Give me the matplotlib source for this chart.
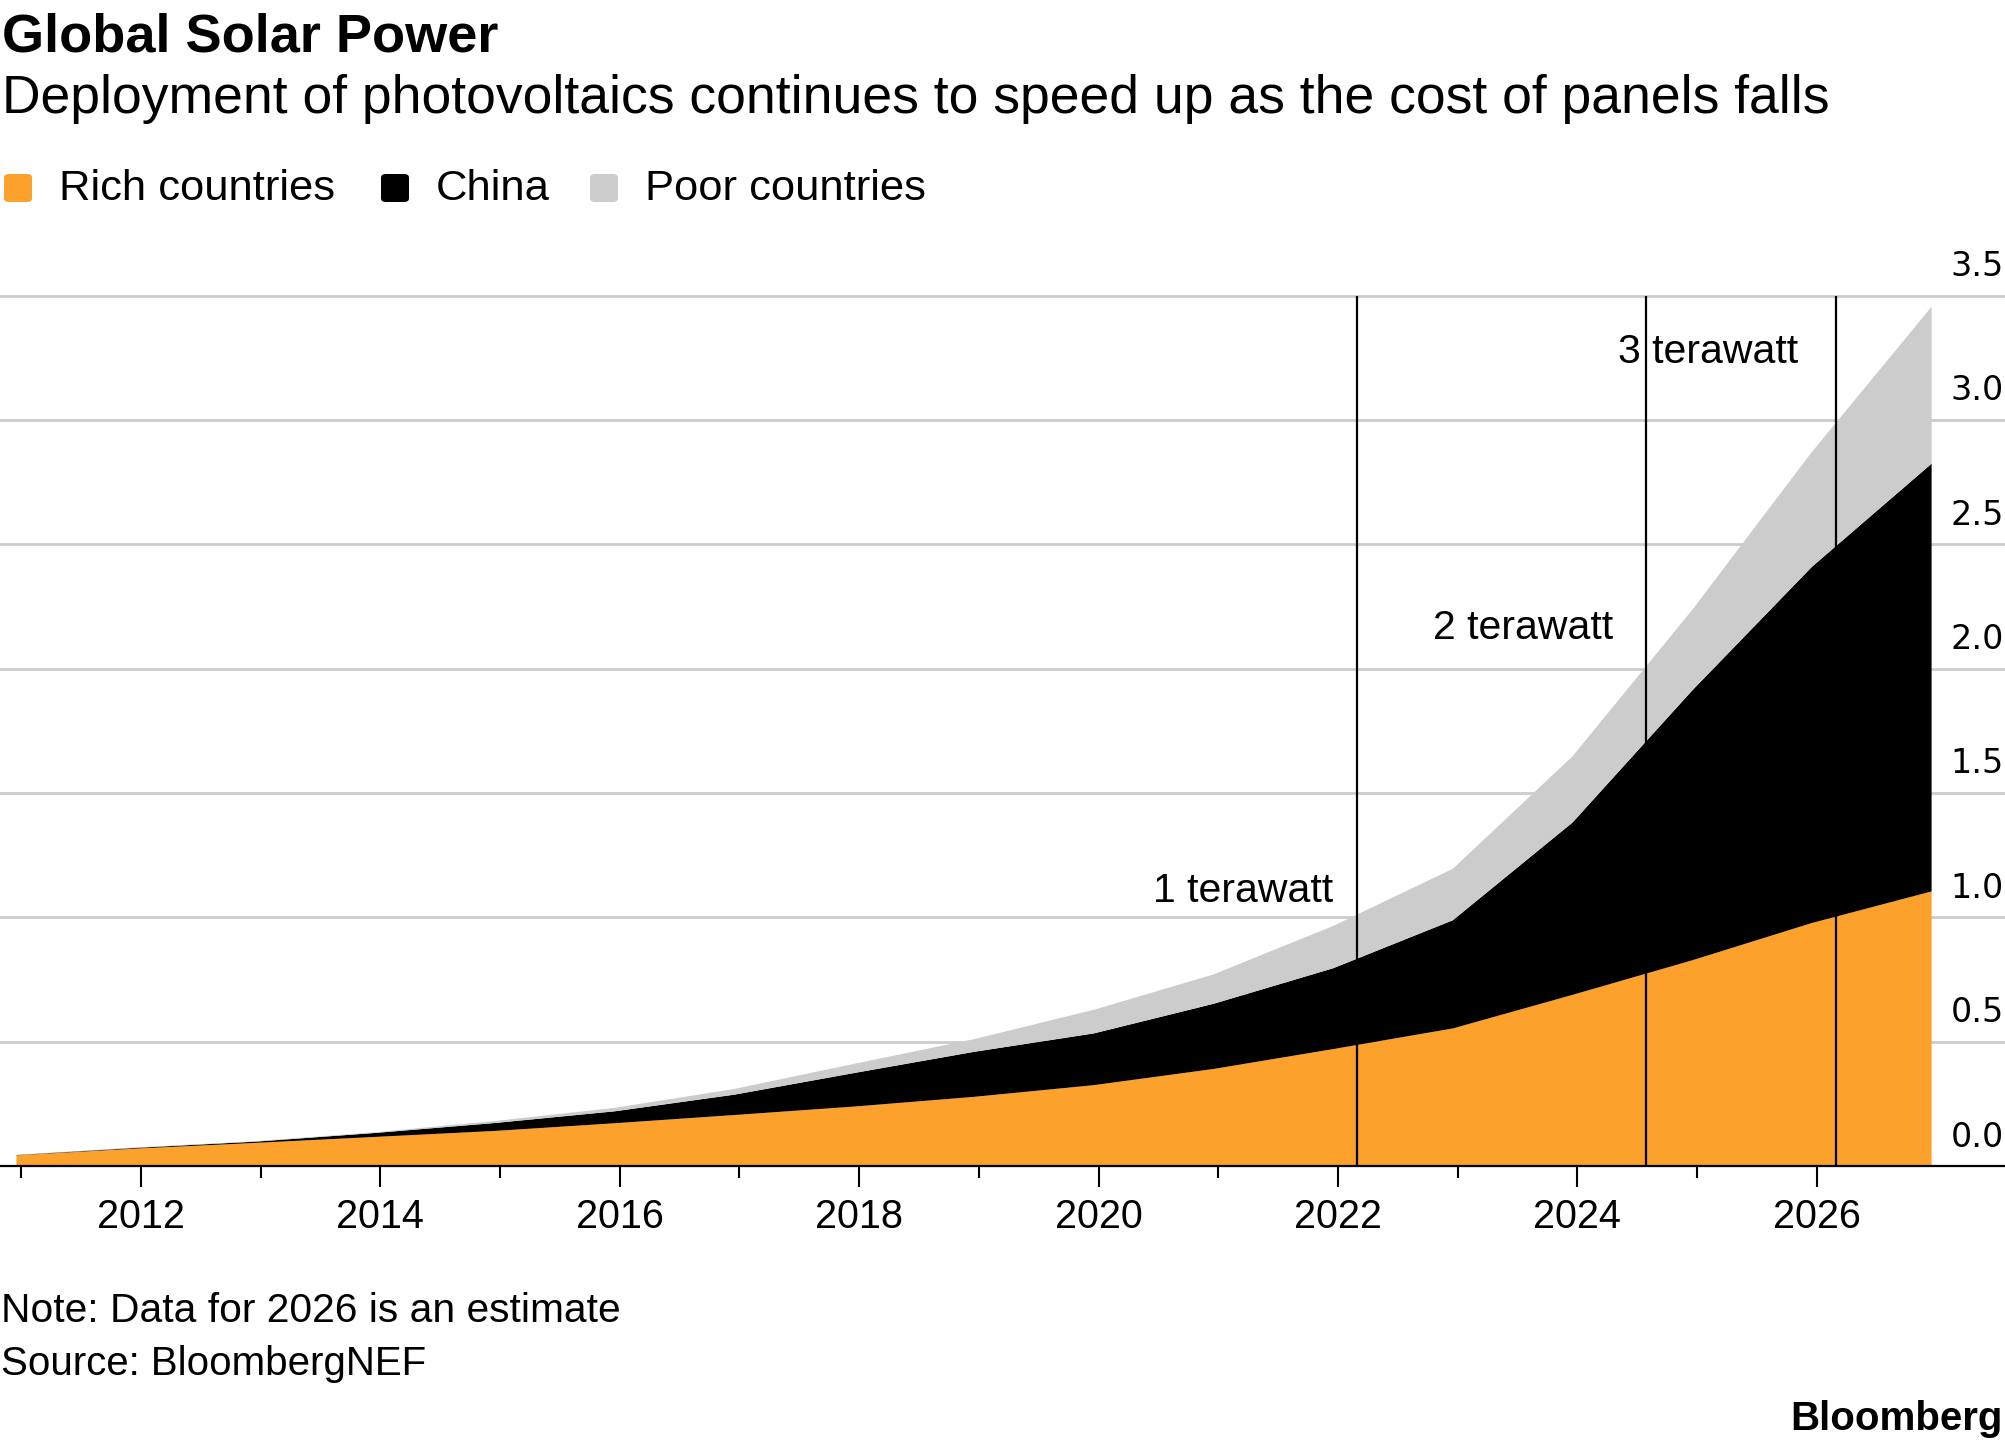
import matplotlib
matplotlib.use("Agg")
from matplotlib import pyplot as plt
from matplotlib.patches import FancyBboxPatch
import numpy as np

# cumulative installed PV, terawatts, end of each year
years = np.arange(2010, 2027)
rich = np.array([0.043, 0.070, 0.093, 0.117, 0.141, 0.172, 0.205, 0.239, 0.278,
                 0.325, 0.390, 0.470, 0.553, 0.688, 0.827, 0.977, 1.104])
china = np.array([0.001, 0.003, 0.005, 0.016, 0.032, 0.048, 0.082, 0.135, 0.181,
                  0.208, 0.262, 0.325, 0.435, 0.693, 1.085, 1.432, 1.720])
poor = np.array([0.001, 0.002, 0.002, 0.003, 0.008, 0.014, 0.023, 0.037, 0.051,
                 0.095, 0.118, 0.170, 0.207, 0.266, 0.324, 0.462, 0.631])

series_names = ["Rich countries", "China", "Poor countries"]
series_colors = ["#fba12c", "#000000", "#cccccc"]

milestone_dates = [2022.16, 2024.57, 2026.16]
milestone_labels = ["1 terawatt", "2 terawatt", "3 terawatt"]

y_ticks = [0.0, 0.5, 1.0, 1.5, 2.0, 2.5, 3.0, 3.5]
x_ticks = list(range(2011, 2027))
x_labeled = list(range(2012, 2027, 2))

W, H = 2005, 1446
plt.rcParams["font.family"] = ["Liberation Sans", "DejaVu Sans"]


def fx(px):
    return px / W


def fy(px):
    return 1 - px / H


fig = plt.figure(figsize=(W / 100, H / 100), dpi=100)
ax = fig.add_axes([0, fy(1166), 1, (1166 - 295.5) / H])

# data points sit at the end of each year
x = years + 0.96
ax.stackplot(x, rich, china, poor, colors=series_colors, linewidth=0, zorder=2)

for v in y_ticks[1:]:
    ax.axhline(v, color="#cccccc", lw=2.0, zorder=1, clip_on=False)
ax.axhline(0, color="black", lw=1.6, zorder=5, clip_on=False)

for v in y_ticks:
    ax.annotate(f"{v:.1f}", xy=(1, v), xycoords=("axes fraction", "data"),
                xytext=(-1.0, 14), textcoords="offset points",
                ha="right", va="baseline", fontsize=24, family="DejaVu Sans",
                annotation_clip=False)

ax.vlines(milestone_dates, 0, 3.5, color="black", lw=1.6, zorder=4)
label_y = [1.06, 2.12, 3.23]
label_dx = [-17, -23, -27]
for d, lab, ly, dx in zip(milestone_dates, milestone_labels, label_y, label_dx):
    ax.annotate(lab, xy=(d, ly), xytext=(dx, 0), textcoords="offset points",
                ha="right", va="baseline", fontsize=29.5)

ax.set_xlim(2011 - 21.2 / 119.7, 2011 + (W - 21.2) / 119.7)
ax.set_ylim(0, 3.5)
for s in ax.spines.values():
    s.set_visible(False)
ax.set_yticks([])
ax.set_xticks(x_labeled)
ax.set_xticklabels([str(y) for y in x_labeled])
ax.set_xticks([t for t in x_ticks if t not in x_labeled], minor=True)
ax.tick_params(axis="x", which="major", length=15, width=1.5, pad=8,
               labelsize=28.5, color="black")
ax.tick_params(axis="x", which="minor", length=8.5, width=1.5, color="black")

# titles
fig.text(fx(2), fy(51), "Global Solar Power", fontsize=39, fontweight="bold",
         va="baseline", ha="left")
fig.text(fx(2), fy(113),
         "Deployment of photovoltaics continues to speed up as the cost of panels falls",
         fontsize=38.5, va="baseline", ha="left")

# legend
leg_x = [4, 381, 590]
for lx, name, col in zip(leg_x, series_names, series_colors):
    box = FancyBboxPatch((fx(lx), fy(202)), fx(28), 28 / H,
                         boxstyle="round,pad=0,rounding_size=0.0025",
                         transform=fig.transFigure, facecolor=col,
                         edgecolor="none")
    fig.patches.append(box)
    fig.text(fx(lx + 55), fy(200), name, fontsize=31.3, va="baseline", ha="left")

# footer
fig.text(fx(1), fy(1322), "Note: Data for 2026 is an estimate", fontsize=29.3,
         va="baseline", ha="left")
fig.text(fx(1), fy(1375), "Source: BloombergNEF", fontsize=29.0,
         va="baseline", ha="left")
fig.text(fx(2003), fy(1430), "Bloomberg", fontsize=29, fontweight="bold",
         va="baseline", ha="right")

fig.savefig("out.png", dpi=100)
